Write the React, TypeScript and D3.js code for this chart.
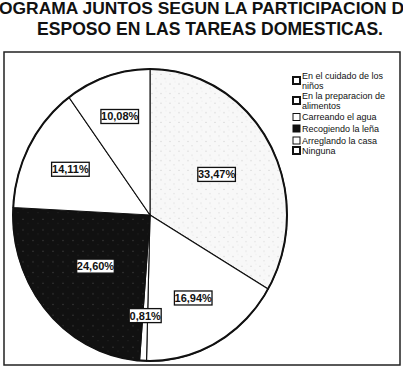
import React from "react";
import * as d3 from "d3";

const categories = [
  "En el cuidado de los niños",
  "En la preparacion de alimentos",
  "Carreando el agua",
  "Recogiendo la leña",
  "Arreglando la casa",
  "Ninguna",
];
const values = [33.47, 16.94, 0.81, 24.6, 14.11, 10.08];
const valueLabels = ["33,47%", "16,94%", "0,81%", "24,60%", "14,11%", "10,08%"];
const legendLines = [
  ["En el cuidado de los", "niños"],
  ["En la preparacion de", "alimentos"],
  ["Carreando el agua"],
  ["Recogiendo la leña"],
  ["Arreglando la casa"],
  ["Ninguna"],
];
const titleLines = [
  "OGRAMA JUNTOS SEGUN LA PARTICIPACION D",
  "ESPOSO EN LAS TAREAS DOMESTICAS.",
];

// layout/style constants
const sliceFills = ["url(#stipple)", "#ffffff", "#ffffff", "url(#dark)", "#ffffff", "#ffffff"];
const labelRadiusFactor = [0.56, 0.65, 0.69, 0.53, 0.66, 0.71];
const swatchFill = ["#fff", "#fff", "#fff", "#111", "#fff", "#fff"];
const swatchStroke = [2, 2, 1, 1, 1, 2];
const legendCenters = [76, 96, 117, 128.5, 140.5, 150.5];
const titleX = [-1, 37];
const titleLen = [405, 346];
const titleBase = [13.5, 35];
const titleScaleY = [1.0, 1.15];

const W = 403;
const H = 366;
const cx = 150;
const cy = 215;
const rx = 137;
const ry = 146;
const FONT = "'Liberation Sans Narrow', 'Arial Narrow', 'Liberation Sans', Arial, sans-serif";

export default function App() {
  const pie = d3.pie<number>().sort(null).value((d) => d);
  const arcs = pie(values);
  const arcGen = d3.arc<d3.PieArcDatum<number>>().innerRadius(0).outerRadius(rx);
  const sy = ry / rx;

  return (
    <svg
      width={W}
      height={H}
      style={{ position: "fixed", left: 0, top: 0, background: "#fff" }}
    >
      <defs>
        <pattern id="stipple" width="9" height="9" patternUnits="userSpaceOnUse">
          <rect width="9" height="9" fill="#f8f8f8" />
          <circle cx="2" cy="3" r="0.5" fill="#bbb" />
          <circle cx="6" cy="7" r="0.5" fill="#c8c8c8" />
          <circle cx="7" cy="1" r="0.4" fill="#d0d0d0" />
        </pattern>
        <pattern id="dark" width="10" height="10" patternUnits="userSpaceOnUse">
          <rect width="10" height="10" fill="#111" />
          <circle cx="3" cy="4" r="0.5" fill="#555" />
          <circle cx="8" cy="8" r="0.4" fill="#444" />
        </pattern>
      </defs>
      <rect width={W} height={H} fill="#fff" />
      {titleLines.map((t, i) => (
        <text
          key={i}
          transform={`translate(${titleX[i]},${titleBase[i]}) scale(1,${titleScaleY[i]})`}
          x={0}
          y={0}
          textLength={titleLen[i]}
          lengthAdjust="spacingAndGlyphs"
          fontFamily="'Liberation Sans', Arial, sans-serif"
          fontWeight="bold"
          fontSize={16.5}
          fill="#111"
        >
          {t}
        </text>
      ))}
      <rect x={4} y={52} width={396} height={313} fill="none" stroke="#222" strokeWidth={1.5} />
      <g transform={`translate(${cx},${cy}) scale(1,${sy})`}>
        {arcs.map((a, i) => (
          <path
            key={i}
            d={arcGen(a) || ""}
            fill={sliceFills[i]}
            stroke="#111"
            strokeWidth={1.1}
            vectorEffect="non-scaling-stroke"
          />
        ))}
        <ellipse cx={0} cy={0} rx={rx} ry={rx} fill="none" stroke="#111" strokeWidth={2} vectorEffect="non-scaling-stroke" />
      </g>
      {arcs.map((a, i) => {
        const ang = (a.startAngle + a.endAngle) / 2;
        const f = labelRadiusFactor[i];
        const x = cx + Math.sin(ang) * rx * f;
        const y = cy - Math.cos(ang) * ry * f;
        const w = valueLabels[i].length * 5.6 + 4;
        return (
          <g key={i} transform={`translate(${x},${y})`}>
            <rect x={-w / 2} y={-7} width={w} height={14} fill="#fff" stroke="#111" strokeWidth={1.3} />
            <text
              x={0}
              y={4}
              textAnchor="middle"
              fontFamily={FONT}
              fontWeight="bold"
              fontSize={11}
              fill="#111"
            >
              {valueLabels[i]}
            </text>
          </g>
        );
      })}
      {categories.map((c, i) => {
        const yc = legendCenters[i];
        const lines = legendLines[i];
        const sw = lines.length > 1 ? yc + 4.5 : yc;
        return (
          <g key={c}>
            <rect
              x={293}
              y={sw - 3.5}
              width={7}
              height={7}
              fill={swatchFill[i]}
              stroke="#111"
              strokeWidth={swatchStroke[i]}
            />
            {lines.map((l, j) => (
              <text
                key={j}
                x={302}
                y={yc + 3 + j * 10}
                fontFamily={FONT}
                fontSize={9}
                fill="#111"
              >
                {l}
              </text>
            ))}
          </g>
        );
      })}
    </svg>
  );
}
